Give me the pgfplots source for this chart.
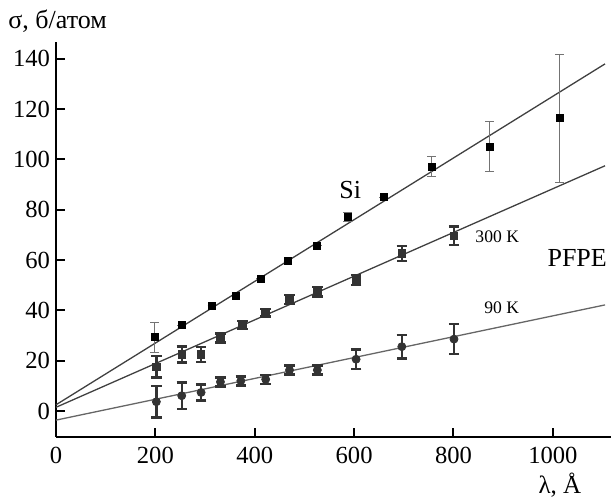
\documentclass[border=0pt]{standalone}
\usepackage{pgfplots}
\pgfplotsset{compat=1.18}
\usepackage{pgfplotstable}
\usepackage{fontspec}
\setmainfont{Liberation Serif}

\pgfplotstableread{
x y e
199 29.3 6.1
253 34.2 0
314 42.0 0
362 45.7 0
412 52.6 0
467 59.6 0
526 65.7 0
587 77.0 1.8
659 85.0 0
756 97.1 4.0
873 105.1 10.0
1014 116.4 25.5
}\si

\pgfplotstableread{
x y e
202 17.6 4.3
253 22.5 3.2
292 22.5 3.0
331 29.1 1.8
375 34.2 1.5
422 39.1 1.5
470 44.3 1.8
526 47.4 1.8
604 52.1 2.0
696 62.7 3.0
801 69.6 3.7
}\khigh

\pgfplotstableread{
x y e
202 3.7 6.2
253 6.1 5.2
292 7.4 3.2
331 11.6 1.8
372 12.0 1.8
422 12.6 1.8
470 16.3 1.8
526 16.3 1.8
604 20.6 3.8
696 25.6 4.7
801 28.6 6.0
}\klow

\begin{document}
\begin{tikzpicture}
\begin{axis}[
  scale only axis,
  width=277.5pt, height=197.5pt,
  xmin=0, xmax=1117, ymin=-10.3, ymax=146.7,
  axis lines=left,
  axis line style={-, line width=1pt},
  tick align=inside,
  major tick length=4.5pt,
  every tick/.style={black, line width=1pt},
  xtick={0,200,...,1000},
  ytick={0,20,...,140},
  scaled x ticks=false,
  /pgf/number format/assume math mode=true,
  /pgf/number format/1000 sep={},
  tick label style={font=\fontsize{12.3}{13}\selectfont},
  yticklabel style={xshift=0.5pt},
  xticklabel style={yshift=-1.4pt},
  clip=false,
]
% fit lines
\addplot[black!75, line width=0.65pt, no marks] coordinates {(0,2.5) (1105,138)};
\addplot[black!75, line width=0.65pt, no marks] coordinates {(0,1.5) (1105,97.5)};
\addplot[black!60, line width=0.65pt, no marks] coordinates {(0,-3.6) (1105,42.2)};

% Si
\addplot[only marks, mark=square*, mark size=1.75pt, black,
  error bars/.cd, y dir=both, y explicit,
  error bar style={black!55, line width=0.5pt},
  error mark options={rotate=90, mark size=2.2pt, black!55, line width=0.5pt}]
  table[x=x, y=y, y error=e] {\si};

% PFPE 300 K
\addplot[only marks, mark=square*, mark size=1.9pt, black!80,
  error bars/.cd, y dir=both, y explicit,
  error bar style={black!80, line width=1.2pt},
  error mark options={rotate=90, mark size=2.6pt, black!80, line width=1.2pt}]
  table[x=x, y=y, y error=e] {\khigh};

% PFPE 90 K
\addplot[only marks, mark=*, mark size=2pt, black!80,
  error bars/.cd, y dir=both, y explicit,
  error bar style={black!80, line width=1.2pt},
  error mark options={rotate=90, mark size=2.6pt, black!80, line width=1.2pt}]
  table[x=x, y=y, y error=e] {\klow};

\node[anchor=base, inner sep=0, font=\fontsize{13}{14}\selectfont] at (axis cs:592,84.3) {Si};
\node[anchor=base, inner sep=0, font=\fontsize{8.8}{10}\selectfont] at (axis cs:888,67.2) {300 K};
\node[anchor=base, inner sep=0, font=\fontsize{8.8}{10}\selectfont] at (axis cs:897,38.6) {90 K};
\node[anchor=base, inner sep=0, font=\fontsize{13}{14}\selectfont] at (axis cs:1049,57.4) {PFPE};
\node[anchor=base west, inner sep=0, font=\fontsize{13}{14}\selectfont] at (rel axis cs:-0.0865,1.033) {σ, б/атом};
\node[anchor=base, inner sep=0, font=\fontsize{12.5}{13}\selectfont] at (rel axis cs:0.908,-0.144) {λ, Å};

\coordinate (BL) at (rel axis cs:-0.1009,-0.157);
\coordinate (TR) at (rel axis cs:1,1.1063);
\end{axis}
\pgfresetboundingbox
\useasboundingbox (BL) rectangle (TR);
\end{tikzpicture}
\end{document}
